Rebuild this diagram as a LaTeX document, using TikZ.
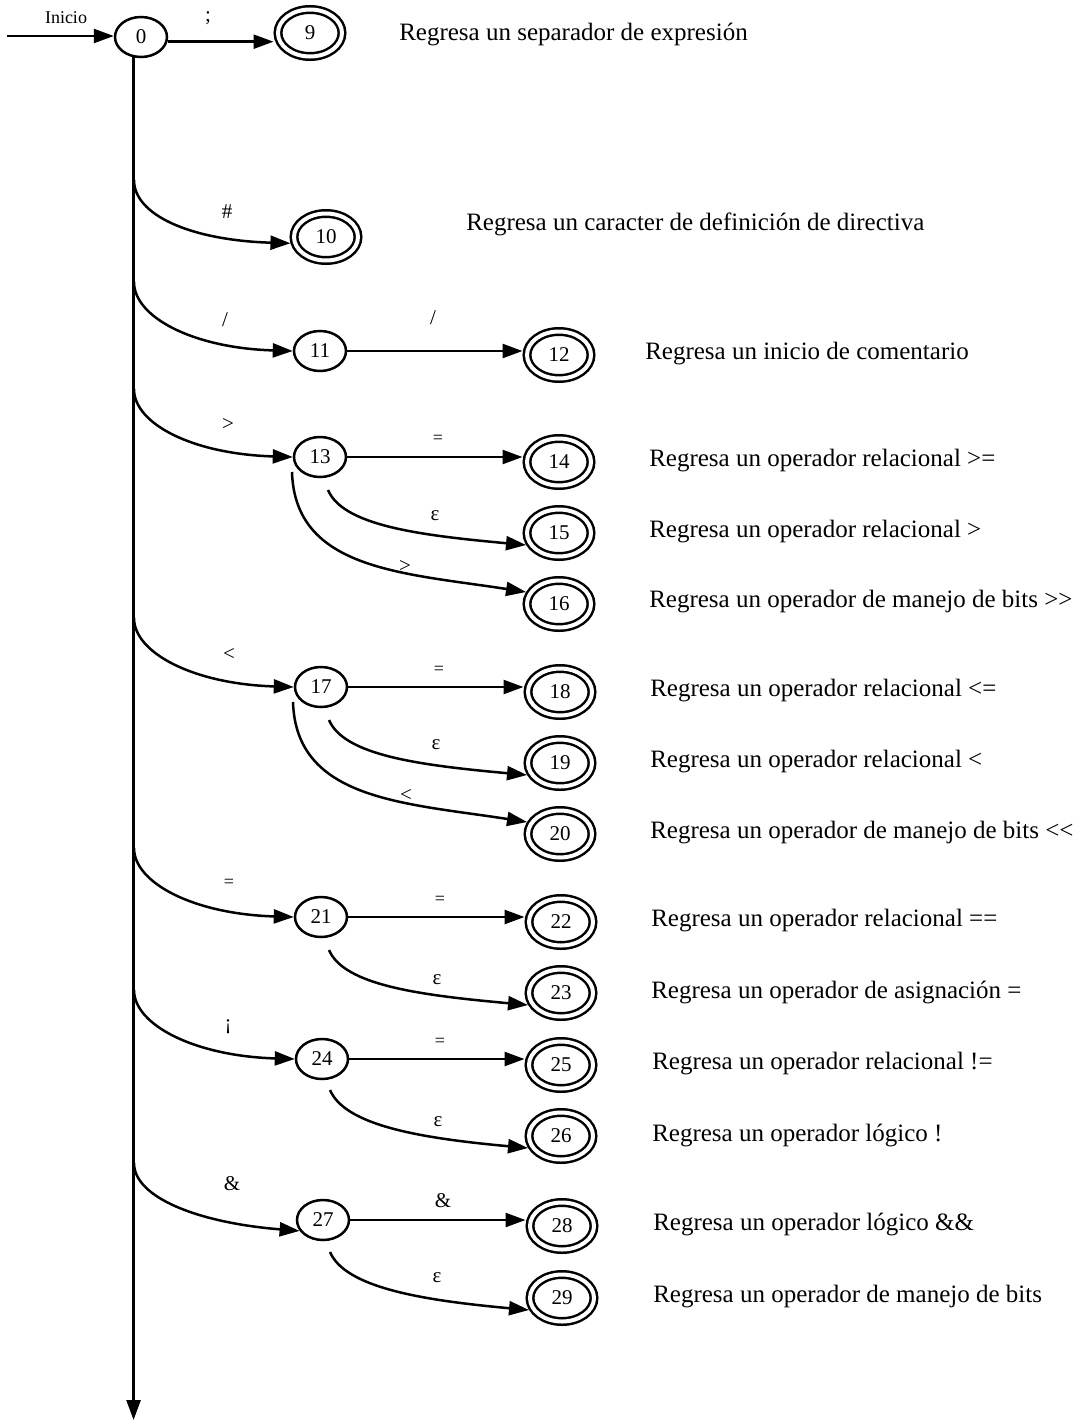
\documentclass[tikz,border=0pt]{standalone}
\usepackage{fontspec}
\setmainfont{Liberation Serif}
\usetikzlibrary{arrows.meta,shapes.geometric}
\begin{document}
\begin{tikzpicture}[x=1pt,y=-1pt,
  line width=2.5pt,
  tip/.style={-{Triangle[length=20pt,width=14pt]}},
  state/.style={ellipse,draw,minimum width=52pt,minimum height=40pt,inner sep=0pt,
    font=\fontsize{21}{21}\selectfont},
  accept/.style={ellipse,draw,double,double distance=4pt,minimum width=64pt,minimum height=47pt,
    inner sep=0pt,outer sep=4.5pt,font=\fontsize{21}{21}\selectfont},
  lbl/.style={font=\fontsize{21}{21}\selectfont,inner sep=0pt},
  small/.style={font=\fontsize{18}{18}\selectfont,inner sep=0pt},
  desc/.style={anchor=base west,font=\fontsize{25}{25}\selectfont,inner sep=0pt}]
\useasboundingbox (0,0) rectangle (1082,1421);

% states
\node[state]  (n0)  at (141,37)   {0};
\node[accept] (n9)  at (310,33)   {9};
\node[accept] (n10) at (326,237)  {10};
\node[state]  (n11) at (320,351)  {11};
\node[accept] (n12) at (559,355)  {12};
\node[state]  (n13) at (320,457)  {13};
\node[accept] (n14) at (559,462)  {14};
\node[accept] (n15) at (559,533)  {15};
\node[accept] (n16) at (559,604)  {16};
\node[state]  (n17) at (321,687)  {17};
\node[accept] (n18) at (560,692)  {18};
\node[accept] (n19) at (560,763)  {19};
\node[accept] (n20) at (560,834)  {20};
\node[state]  (n21) at (321,917)  {21};
\node[accept] (n22) at (561,922)  {22};
\node[accept] (n23) at (561,993)  {23};
\node[state]  (n24) at (322,1059) {24};
\node[accept] (n25) at (561,1065) {25};
\node[accept] (n26) at (561,1136) {26};
\node[state]  (n27) at (323,1220) {27};
\node[accept] (n28) at (562,1226) {28};
\node[accept] (n29) at (562,1298) {29};

% start arrow and first transition
\coordinate (in0) at (7,36);
\draw[tip] (in0) -- (in0 -| n0.west);
\node[small] (linicio) at (66,18) {Inicio};
\draw[tip] (n0.-10) -- (n0.-10 -| n9.west);
\node[lbl] (l9) at (208,18) {;};

% main vertical trunk
\coordinate (vend) at (134,1420);
\draw[tip] (n0.250) -- (n0.250 |- vend);

% branches leaving the trunk
\coordinate (b10) at (134,180);
\coordinate (b11) at (134,282);
\coordinate (b13) at (134,389);
\coordinate (b17) at (134,618);
\coordinate (b21) at (134,848);
\coordinate (b24) at (134,990);
\coordinate (b27) at (134,1163);
\draw[tip] (b10) .. controls +(0,35) and +(-100,-3) .. (n10.190);
\draw[tip] (b11) .. controls +(0,35) and +(-100,-3) .. (n11.west);
\draw[tip] (b13) .. controls +(0,35) and +(-100,-3) .. (n13.west);
\draw[tip] (b17) .. controls +(0,35) and +(-100,-3) .. (n17.west);
\draw[tip] (b21) .. controls +(0,35) and +(-100,-3) .. (n21.west);
\draw[tip] (b24) .. controls +(0,35) and +(-100,-3) .. (n24.west);
\draw[tip] (b27) .. controls +(0,35) and +(-100,-8) .. (n27.205);
\node[lbl] (l10) at (227,212)  {\#};
\node[lbl] (l11) at (225,320)  {/};
\node[lbl] (l13) at (228,424)  {>};
\node[lbl] (l17) at (229,654)  {<};
\node[small] (l21) at (229,883) {=};
\node[lbl] (l24) at (228,1027) {¡};
\node[lbl] (l27) at (232,1184) {\&};

% straight second-level transitions
\draw[tip] (n11.east) -- (n11.east -| n12.west);
\draw[tip] (n13.east) -- (n13.east -| n14.west);
\draw[tip] (n17.east) -- (n17.east -| n18.west);
\draw[tip] (n21.east) -- (n21.east -| n22.west);
\draw[tip] (n24.east) -- (n24.east -| n25.west);
\draw[tip] (n27.east) -- (n27.east -| n28.west);
\node[lbl]   (l12) at (433,318)  {/};
\node[small] (l14) at (438,439)  {=};
\node[small] (l18) at (439,670)  {=};
\node[small] (l22) at (440,900)  {=};
\node[small] (l25) at (440,1042) {=};
\node[lbl]   (l28) at (443,1201) {\&};

% curved second-level transitions
\coordinate (s15) at (328,490);
\coordinate (s16) at (292,472);
\coordinate (s19) at (329,720);
\coordinate (s20) at (293,702);
\coordinate (s23) at (329,950);
\coordinate (s26) at (330,1090);
\coordinate (s29) at (330,1252);
\draw[tip] (s15) .. controls +(15,35) and +(-110,-10) .. (n15.200);
\draw[tip] (s16) .. controls +(3,98) and +(-123,-19) .. (n16.160);
\draw[tip] (s19) .. controls +(15,35) and +(-110,-10) .. (n19.200);
\draw[tip] (s20) .. controls +(3,98) and +(-123,-19) .. (n20.160);
\draw[tip] (s23) .. controls +(15,35) and +(-110,-10) .. (n23.200);
\draw[tip] (s26) .. controls +(15,35) and +(-110,-10) .. (n26.200);
\draw[tip] (s29) .. controls +(15,35) and +(-110,-10) .. (n29.200);
\node[lbl] (l15) at (435,516)  {ε};
\node[lbl] (l16) at (405,566)  {>};
\node[lbl] (l19) at (436,745)  {ε};
\node[lbl] (l20) at (406,795)  {<};
\node[lbl] (l23) at (437,980)  {ε};
\node[lbl] (l26) at (438,1122) {ε};
\node[lbl] (l29) at (437,1278) {ε};

% descriptions of the accepting states
\node[desc] (d9)  at (398,41)   {Regresa un separador de expresión};
\node[desc] (d10) at (465,230)  {Regresa un caracter de definición de directiva};
\node[desc] (d12) at (644,359)  {Regresa un inicio de comentario};
\node[desc] (d14) at (648,466)  {Regresa un operador relacional >=};
\node[desc] (d15) at (648,537)  {Regresa un operador relacional >};
\node[desc] (d16) at (648,607)  {Regresa un operador de manejo de bits >{}>};
\node[desc] (d18) at (649,696)  {Regresa un operador relacional <=};
\node[desc] (d19) at (649,767)  {Regresa un operador relacional <};
\node[desc] (d20) at (649,838)  {Regresa un operador de manejo de bits <{}<};
\node[desc] (d22) at (650,926)  {Regresa un operador relacional ==};
\node[desc] (d23) at (650,998)  {Regresa un operador de asignación =};
\node[desc] (d25) at (651,1069) {Regresa un operador relacional !=};
\node[desc] (d26) at (651,1141) {Regresa un operador lógico !};
\node[desc] (d28) at (652,1230) {Regresa un operador lógico \&\&};
\node[desc] (d29) at (652,1302) {Regresa un operador de manejo de bits};
\end{tikzpicture}
\end{document}
